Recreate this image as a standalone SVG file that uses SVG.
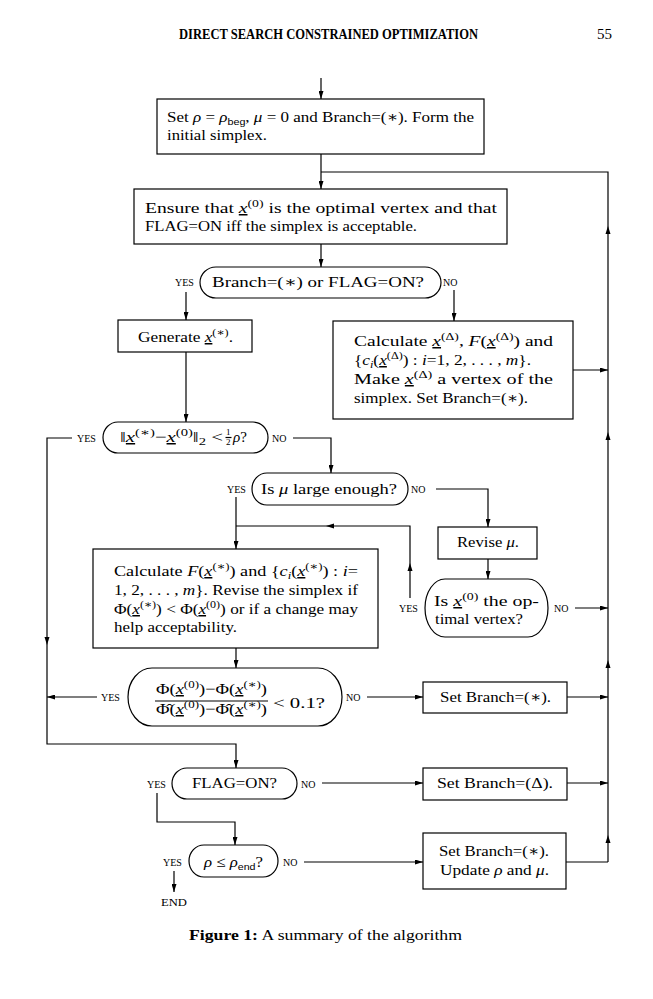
<svg xmlns="http://www.w3.org/2000/svg" width="653" height="999" viewBox="0 0 653 999">
<style>
text{font-family:"Liberation Serif","DejaVu Serif",serif;font-size:15px;fill:#000}
.i{font-style:italic}
.u{text-decoration:underline}
.s{font-size:10.5px}
.sb{font-family:"Liberation Sans","DejaVu Sans",sans-serif;font-size:9.5px}
.lab{font-size:10px}
.fr{font-size:9px}
.box{fill:#fff;stroke:#000;stroke-width:1.2}
.ln{fill:none;stroke:#000;stroke-width:1.2}
.ar{marker-end:url(#a)}
</style>
<defs>
<marker id="a" viewBox="0 0 10 10" refX="10" refY="5" markerWidth="8" markerHeight="5" markerUnits="userSpaceOnUse" orient="auto" preserveAspectRatio="none"><path d="M0,0 L10,5 L0,10 z" fill="#000"/></marker>
<path id="m" d="M0,0 L-8,-2.5 L-8,2.5 Z" fill="#000"/>
</defs>
<rect width="653" height="999" fill="#fff"/>

<text x="179" y="39" textLength="299" lengthAdjust="spacingAndGlyphs" font-size="11" font-weight="bold">DIRECT SEARCH CONSTRAINED OPTIMIZATION</text>
<text x="597" y="39" font-size="14.5">55</text>

<g id="connectors">
<path class="ln ar" d="M321,78 V99"/>
<path class="ln ar" d="M321,154 V189"/>
<path class="ln" d="M321,172 H608 V862"/>
<use href="#m" transform="translate(608,226) rotate(-90)"/>
<use href="#m" transform="translate(608,432) rotate(-90)"/>
<use href="#m" transform="translate(608,660) rotate(-90)"/>
<use href="#m" transform="translate(608,835) rotate(-90)"/>
<path class="ln ar" d="M321,244 V267"/>
<path class="ln ar" d="M186,292 V320"/>
<path class="ln ar" d="M454,290 V321"/>
<path class="ln ar" d="M186,352 V422"/>
<path class="ln ar" d="M573,370 H608"/>
<path class="ln ar" d="M72,438 H47 V744 H236 V768"/>
<use href="#m" transform="translate(47,645) rotate(90)"/>
<path class="ln ar" d="M293,438 H331 V473"/>
<path class="ln ar" d="M236,497 V549"/>
<path class="ln" d="M410,598 V526 H236"/>
<use href="#m" transform="translate(410,563) rotate(-90)"/>
<use href="#m" transform="translate(326,526) rotate(180)"/>
<path class="ln ar" d="M436,489 H488 V527"/>
<path class="ln ar" d="M488,559 V579"/>
<path class="ln ar" d="M575,608 H608"/>
<path class="ln ar" d="M236,648 V668"/>
<path class="ln ar" d="M97,697 H47"/>
<path class="ln ar" d="M367,697 H423"/>
<path class="ln ar" d="M567,697 H608"/>
<path class="ln ar" d="M157,793 V822 H235 V845"/>
<path class="ln ar" d="M322,783 H423"/>
<path class="ln ar" d="M567,783 H608"/>
<path class="ln ar" d="M174,871 V892"/>
<path class="ln ar" d="M304,862 H423"/>
<path class="ln" d="M566,862 H608"/>
</g>

<g id="init">
<rect class="box" x="157" y="99" width="327" height="55"/>
<text x="167" y="122" textLength="307" lengthAdjust="spacingAndGlyphs">Set <tspan class="i">ρ</tspan> = <tspan class="i">ρ</tspan><tspan class="sb" dy="3">beg</tspan><tspan dy="-3">, </tspan><tspan class="i">μ</tspan> = 0 and Branch=(∗).  Form the</text>
<text x="167" y="140" textLength="100" lengthAdjust="spacingAndGlyphs">initial simplex.</text>
</g>

<g id="ensure">
<rect class="box" x="134" y="189" width="373" height="55"/>
<text x="145" y="213" textLength="352" lengthAdjust="spacingAndGlyphs">Ensure that <tspan class="i u">x</tspan><tspan class="s" dy="-6">(0)</tspan><tspan dy="6"> is the optimal vertex and that</tspan></text>
<text x="145" y="231" textLength="272" lengthAdjust="spacingAndGlyphs">FLAG=ON iff the simplex is acceptable.</text>
</g>

<g id="d1">
<rect class="box" x="200" y="267" width="241" height="31" rx="16" ry="15.5"/>
<text x="212" y="287" textLength="212" lengthAdjust="spacingAndGlyphs">Branch=(∗) or FLAG=ON?</text>
<text class="lab" x="175" y="286">YES</text>
<text class="lab" x="443" y="286">NO</text>
</g>

<g id="generate">
<rect class="box" x="118" y="320" width="134" height="32"/>
<text x="138" y="342" textLength="95" lengthAdjust="spacingAndGlyphs">Generate <tspan class="i u">x</tspan><tspan class="s" dy="-6">(∗)</tspan><tspan dy="6">.</tspan></text>
</g>

<g id="calcdelta">
<rect class="box" x="333" y="321" width="240" height="98"/>
<text x="354" y="346" textLength="199" lengthAdjust="spacingAndGlyphs">Calculate <tspan class="i u">x</tspan><tspan class="s" dy="-6">(Δ)</tspan><tspan dy="6">, </tspan><tspan class="i">F</tspan>(<tspan class="i u">x</tspan><tspan class="s" dy="-6">(Δ)</tspan><tspan dy="6">) and</tspan></text>
<text x="354" y="365" textLength="177" lengthAdjust="spacingAndGlyphs">{<tspan class="i">c</tspan><tspan class="s i" dy="3">i</tspan><tspan dy="-3">(</tspan><tspan class="i u">x</tspan><tspan class="s" dy="-6">(Δ)</tspan><tspan dy="6">) : </tspan><tspan class="i">i</tspan>=1, 2, . . . , <tspan class="i">m</tspan>}.</text>
<text x="354" y="384" textLength="199" lengthAdjust="spacingAndGlyphs">Make <tspan class="i u">x</tspan><tspan class="s" dy="-6">(Δ)</tspan><tspan dy="6"> a vertex of the</tspan></text>
<text x="354" y="403" textLength="174" lengthAdjust="spacingAndGlyphs">simplex. Set Branch=(∗).</text>
</g>

<g id="d2">
<rect class="box" x="103" y="422" width="165" height="31" rx="15" ry="15.5"/>
<text x="120" y="442" textLength="103" lengthAdjust="spacingAndGlyphs">‖<tspan class="i u">x</tspan><tspan class="s" dy="-6">(∗)</tspan><tspan dy="6">−</tspan><tspan class="i u">x</tspan><tspan class="s" dy="-6">(0)</tspan><tspan dy="6">‖</tspan><tspan class="s" dy="3">2</tspan><tspan dy="-3"> &lt;</tspan></text>
<text class="fr" x="226" y="435">1</text>
<path class="ln" stroke-width="0.8" d="M225.5,437.5 H231.5"/>
<text class="fr" x="226" y="445">2</text>
<text x="233" y="442"><tspan class="i">ρ</tspan>?</text>
<text class="lab" x="77" y="442">YES</text>
<text class="lab" x="272" y="442">NO</text>
</g>

<g id="d3">
<rect class="box" x="252" y="473" width="156" height="32" rx="15" ry="16"/>
<text x="261" y="494" textLength="136" lengthAdjust="spacingAndGlyphs">Is <tspan class="i">μ</tspan> large enough?</text>
<text class="lab" x="227" y="493">YES</text>
<text class="lab" x="411" y="493">NO</text>
</g>

<g id="revise">
<rect class="box" x="438" y="527" width="99" height="32"/>
<text x="457" y="547" textLength="62" lengthAdjust="spacingAndGlyphs">Revise <tspan class="i">μ</tspan>.</text>
</g>

<g id="d5">
<rect class="box" x="425" y="579" width="123" height="58" rx="20" ry="29"/>
<text x="434" y="606" textLength="105" lengthAdjust="spacingAndGlyphs">Is <tspan class="i u">x</tspan><tspan class="s" dy="-6">(0)</tspan><tspan dy="6"> the op-</tspan></text>
<text x="435" y="624" textLength="88" lengthAdjust="spacingAndGlyphs">timal vertex?</text>
<text class="lab" x="399" y="612">YES</text>
<text class="lab" x="554" y="612">NO</text>
</g>

<g id="calcf">
<rect class="box" x="93" y="549" width="285" height="99"/>
<text x="114" y="576" textLength="244" lengthAdjust="spacingAndGlyphs">Calculate <tspan class="i">F</tspan>(<tspan class="i u">x</tspan><tspan class="s" dy="-6">(∗)</tspan><tspan dy="6">) and {</tspan><tspan class="i">c</tspan><tspan class="s i" dy="3">i</tspan><tspan dy="-3">(</tspan><tspan class="i u">x</tspan><tspan class="s" dy="-6">(∗)</tspan><tspan dy="6">) : </tspan><tspan class="i">i</tspan>=</text>
<text x="114" y="595" textLength="244" lengthAdjust="spacingAndGlyphs">1, 2, . . . , <tspan class="i">m</tspan>}.  Revise the simplex if</text>
<text x="114" y="614" textLength="244" lengthAdjust="spacingAndGlyphs">Φ(<tspan class="i u">x</tspan><tspan class="s" dy="-6">(∗)</tspan><tspan dy="6">) &lt; Φ(</tspan><tspan class="i u">x</tspan><tspan class="s" dy="-6">(0)</tspan><tspan dy="6">) or if a change may</tspan></text>
<text x="114" y="632" textLength="123" lengthAdjust="spacingAndGlyphs">help acceptability.</text>
</g>

<g id="d4">
<rect class="box" x="128" y="668" width="214" height="58" rx="24" ry="29"/>
<text x="156" y="694" textLength="111" lengthAdjust="spacingAndGlyphs">Φ(<tspan class="i u">x</tspan><tspan class="s" dy="-6">(0)</tspan><tspan dy="6">)−Φ(</tspan><tspan class="i u">x</tspan><tspan class="s" dy="-6">(∗)</tspan><tspan dy="6">)</tspan></text>
<path class="ln" stroke-width="1" d="M155,701 H268"/>
<text x="156" y="714" textLength="111" lengthAdjust="spacingAndGlyphs">Φ̂(<tspan class="i u">x</tspan><tspan class="s" dy="-6">(0)</tspan><tspan dy="6">)−Φ̂(</tspan><tspan class="i u">x</tspan><tspan class="s" dy="-6">(∗)</tspan><tspan dy="6">)</tspan></text>
<text x="273" y="708" textLength="52" lengthAdjust="spacingAndGlyphs">&lt; 0.1?</text>
<text class="lab" x="101" y="701">YES</text>
<text class="lab" x="346" y="701">NO</text>
</g>

<g id="setbranch1">
<rect class="box" x="423" y="682" width="144" height="31"/>
<text x="440" y="702" textLength="111" lengthAdjust="spacingAndGlyphs">Set Branch=(∗).</text>
</g>

<g id="d6">
<rect class="box" x="172" y="768" width="125" height="31" rx="15" ry="15.5"/>
<text x="192" y="788" textLength="85" lengthAdjust="spacingAndGlyphs">FLAG=ON?</text>
<text class="lab" x="147" y="788">YES</text>
<text class="lab" x="301" y="788">NO</text>
</g>

<g id="setbranchdelta">
<rect class="box" x="423" y="768" width="144" height="32"/>
<text x="437" y="788" textLength="116" lengthAdjust="spacingAndGlyphs">Set Branch=(Δ).</text>
</g>

<g id="d7">
<rect class="box" x="189" y="845" width="89" height="32" rx="15" ry="16"/>
<text x="204" y="867" textLength="59" lengthAdjust="spacingAndGlyphs"><tspan class="i">ρ</tspan> ≤ <tspan class="i">ρ</tspan><tspan class="sb" dy="3">end</tspan><tspan dy="-3">?</tspan></text>
<text class="lab" x="163" y="866">YES</text>
<text class="lab" x="283" y="866">NO</text>
</g>

<g id="update">
<rect class="box" x="423" y="833" width="143" height="56"/>
<text x="439" y="856" textLength="110" lengthAdjust="spacingAndGlyphs">Set Branch=(∗).</text>
<text x="440" y="875" textLength="109" lengthAdjust="spacingAndGlyphs">Update <tspan class="i">ρ</tspan> and <tspan class="i">μ</tspan>.</text>
</g>

<g id="end">
<text class="lab" x="161" y="906" textLength="26" lengthAdjust="spacingAndGlyphs">END</text>
</g>

<text x="189" y="940" textLength="273" lengthAdjust="spacingAndGlyphs"><tspan font-weight="bold">Figure 1:</tspan> A summary of the algorithm</text>
</svg>
